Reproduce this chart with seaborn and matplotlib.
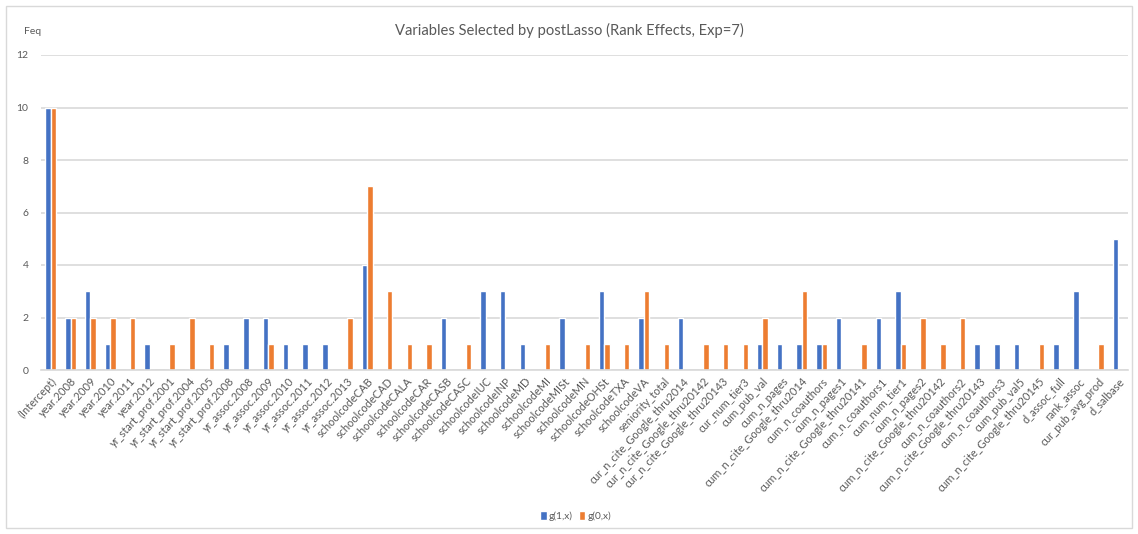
import matplotlib
matplotlib.use("Agg")
import matplotlib.pyplot as plt
from matplotlib.patches import Rectangle, Patch
import seaborn as sns
import pandas as pd

variables = [
    "(Intercept)", "year.2008", "year.2009", "year.2010", "year.2011", "year.2012",
    "yr_start_prof.2001", "yr_start_prof.2004", "yr_start_prof.2005", "yr_start_prof.2008",
    "yr_assoc.2008", "yr_assoc.2009", "yr_assoc.2010", "yr_assoc.2011", "yr_assoc.2012",
    "yr_assoc.2013", "schoolcodeCAB", "schoolcodeCAD", "schoolcodeCALA", "schoolcodeCAR",
    "schoolcodeCASB", "schoolcodeCASC", "schoolcodeIUC", "schoolcodeINP", "schoolcodeMD",
    "schoolcodeMI", "schoolcodeMISt", "schoolcodeMN", "schoolcodeOHSt", "schoolcodeTXA",
    "schoolcodeVA", "seniority_total", "cur_n_cite_Google_thru2014",
    "cur_n_cite_Google_thru20142", "cur_n_cite_Google_thru20143", "cur_num_tier3",
    "cum_pub_val", "cum_n_pages", "cum_n_cite_Google_thru2014", "cum_n_coauthors",
    "cum_n_pages1", "cum_n_cite_Google_thru20141", "cum_n_coauthors1", "cum_num_tier1",
    "cum_n_pages2", "cum_n_cite_Google_thru20142", "cum_n_coauthors2",
    "cum_n_cite_Google_thru20143", "cum_n_coauthors3", "cum_pub_val5",
    "cum_n_cite_Google_thru20145", "d_assoc_full", "rank_assoc", "cur_pub_avg_prod",
    "d_salbase",
]

g1 = [10, 2, 3, 1, 0, 1, 0, 0, 0, 1, 2, 2, 1, 1, 1, 0, 4, 0, 0, 0, 2, 0, 3, 3, 1,
      0, 2, 0, 3, 0, 2, 0, 2, 0, 0, 0, 1, 1, 1, 1, 2, 0, 2, 3, 0, 0, 0, 1, 1, 1,
      0, 1, 3, 0, 5]
g0 = [10, 2, 2, 2, 2, 0, 1, 2, 1, 0, 0, 1, 0, 0, 0, 2, 7, 3, 1, 1, 0, 1, 0, 0, 0,
      1, 0, 1, 1, 1, 3, 1, 0, 1, 1, 1, 2, 0, 3, 1, 0, 1, 0, 1, 2, 1, 2, 0, 0, 0,
      1, 0, 0, 1, 0]

series_names = ["g(1,x)", "g(0,x)"]
yticks = [0, 2, 4, 6, 8, 10, 12]

BLUE = "#4472C4"
ORANGE = "#ED7D31"
GRID = "#D9D9D9"
TEXT = "#595959"

df = pd.DataFrame({
    "variable": variables * 2,
    "freq": g1 + g0,
    "series": [series_names[0]] * len(variables) + [series_names[1]] * len(variables),
})

sns.set_theme(style="white")
plt.rcParams["font.family"] = ["Lato", "DejaVu Sans"]

W, H = 1138, 534
fig = plt.figure(figsize=(W / 100, H / 100), dpi=100)
ax = fig.add_axes([41 / W, 1 - 370 / H, (1128 - 41) / W, (370 - 55) / H])

sns.barplot(data=df, x="variable", y="freq", hue="series", order=variables,
            hue_order=series_names, palette=[BLUE, ORANGE], width=0.55,
            ax=ax, legend=False, saturation=1)

ax.set_xlim(-0.5, len(variables) - 0.5)
ax.set_ylim(0, 12)
ax.set_yticks(yticks)
ax.yaxis.grid(True, color=GRID, linewidth=1.2)
ax.set_axisbelow(True)
for s in ["left", "right", "top"]:
    ax.spines[s].set_visible(False)
ax.spines["bottom"].set_color(GRID)
ax.spines["bottom"].set_linewidth(1.2)
ax.set_xlabel("")
ax.set_ylabel("")
ax.tick_params(axis="y", length=0, pad=9, labelsize=7.5, labelcolor=TEXT)
ax.tick_params(axis="x", length=0, pad=4, labelsize=7.9, labelcolor=TEXT)
ax.set_xticks(range(len(variables)))
ax.set_xticklabels(variables, rotation=47, ha="right", rotation_mode="anchor")

fig.text(0.5, 1 - 30 / H, "Variables Selected by postLasso (Rank Effects, Exp=7)",
         ha="center", va="center", fontsize=10.6, color=TEXT)
fig.text(24 / W, 1 - 31 / H, "Feq", ha="left", va="center", fontsize=7.5, color=TEXT)

handles = [Patch(facecolor=BLUE), Patch(facecolor=ORANGE)]
fig.legend(handles, series_names, loc="center", bbox_to_anchor=(576 / W, 1 - 516 / H),
           ncol=2, frameon=False, fontsize=7.3, handlelength=0.6, handleheight=0.9,
           handletextpad=0.25, columnspacing=0.6, labelcolor=TEXT)

fig.patches.append(Rectangle((6 / W, 6 / H), 1 - 12 / W, 1 - 12 / H,
                             transform=fig.transFigure, fill=False,
                             edgecolor=GRID, linewidth=1))

fig.savefig("out.png", dpi=100, facecolor="white")
